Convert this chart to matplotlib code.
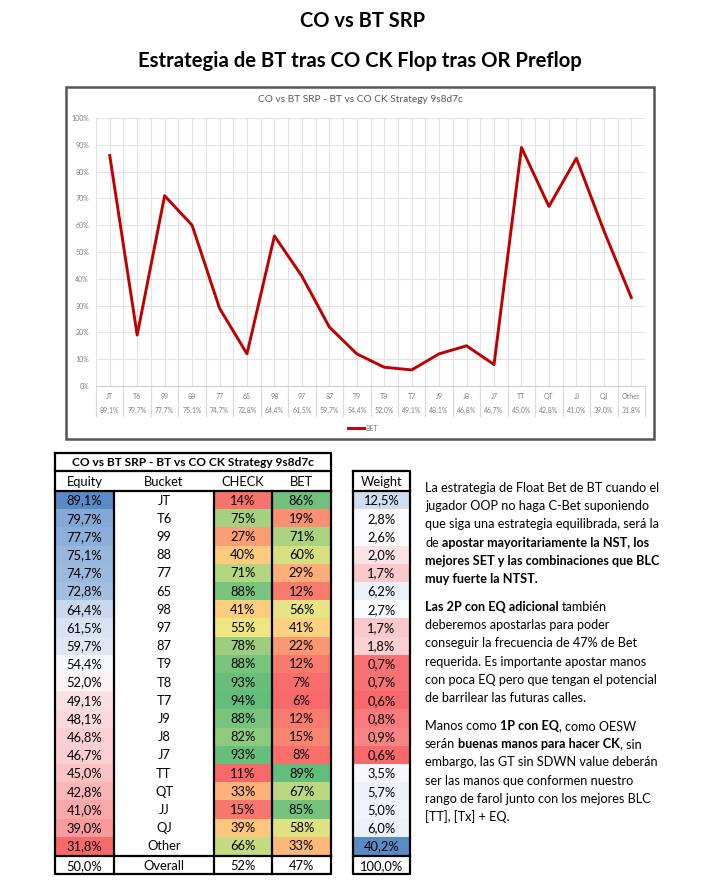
import matplotlib
matplotlib.use('Agg')
import matplotlib.pyplot as plt
import numpy as np
from matplotlib.patches import Rectangle
from matplotlib.colors import to_rgb

plt.rcParams['font.family'] = ['Lato', 'DejaVu Sans']

# data
buckets = ['JT', 'T6', '99', '88', '77', '65', '98', '97', '87', 'T9',
           'T8', 'T7', 'J9', 'J8', 'J7', 'TT', 'QT', 'JJ', 'QJ', 'Other']
equity = [89.1, 79.7, 77.7, 75.1, 74.7, 72.8, 64.4, 61.5, 59.7, 54.4,
          52.0, 49.1, 48.1, 46.8, 46.7, 45.0, 42.8, 41.0, 39.0, 31.8]
check = [14, 75, 27, 40, 71, 88, 41, 55, 78, 88, 93, 94, 88, 82, 93, 11, 33, 15, 39, 66]
bet = [86, 19, 71, 60, 29, 12, 56, 41, 22, 12, 7, 6, 12, 15, 8, 89, 67, 85, 58, 33]
weight = [12.5, 2.8, 2.6, 2.0, 1.7, 6.2, 2.7, 1.7, 1.8, 0.7,
          0.7, 0.6, 0.8, 0.9, 0.6, 3.5, 5.7, 5.0, 6.0, 40.2]
overall = ['50,0%', 'Overall', '52%', '47%']
overall_weight = '100,0%'

title1 = 'CO vs BT SRP'
title2 = 'Estrategia de BT tras CO CK Flop tras OR Preflop'
chart_title = 'CO vs BT SRP - BT vs CO CK Strategy 9s8d7c'
table_title = 'CO vs BT SRP - BT vs CO CK Strategy 9s8d7c'
headers = ['Equity', 'Bucket', 'CHECK', 'BET']

para_lines = [
    [("La estrategia de Float Bet de BT cuando el", False)],
    [("jugador OOP no haga C-Bet suponiendo", False)],
    [("que siga una estrategia equilibrada, será la", False)],
    [("de ", False), ("apostar mayoritariamente la NST, los", True)],
    [("mejores SET y las combinaciones que BLC", True)],
    [("muy fuerte la NTST.", True)],
    None,
    [("Las 2P con EQ adicional", True), (" también", False)],
    [("deberemos apostarlas para poder", False)],
    [("conseguir la frecuencia de 47% de Bet", False)],
    [("requerida. Es importante apostar manos", False)],
    [("con poca EQ pero que tengan el potencial", False)],
    [("de barrilear las futuras calles.", False)],
    None,
    [("Manos como ", False), ("1P con EQ", True), (", como OESW", False)],
    [("serán ", False), ("buenas manos para hacer CK", True), (", sin", False)],
    [("embargo, las GT sin SDWN value deberán", False)],
    [("ser las manos que conformen nuestro", False)],
    [("rango de farol junto con los mejores BLC", False)],
    [("[TT], [Tx] + EQ.", False)],
]


def fmt_pct1(v):
    return ('%.1f%%' % v).replace('.', ',')


def scale3(v, lo, mid, hi, c_lo, c_mid, c_hi):
    c_lo, c_mid, c_hi = np.array(to_rgb(c_lo)), np.array(to_rgb(c_mid)), np.array(to_rgb(c_hi))
    if v <= mid:
        t = (v - lo) / (mid - lo)
        return tuple(c_lo + (c_mid - c_lo) * t)
    t = (v - mid) / (hi - mid)
    return tuple(c_mid + (c_hi - c_mid) * t)


RED, YEL, GRN = '#F8696B', '#FFEB84', '#63BE7B'
BLUE, WHITE = '#5A8AC6', '#FCFCFF'

W, H = 726, 883
fig = plt.figure(figsize=(W / 100, H / 100), dpi=100)
bg = fig.add_axes([0, 0, 1, 1])
bg.set_xlim(0, W)
bg.set_ylim(H, 0)
bg.axis('off')

# titles
bg.text(363, 21, title1, ha='center', va='center', fontsize=14.5, fontweight='bold')
bg.text(360, 61, title2, ha='center', va='center', fontsize=14.6, fontweight='bold')

# chart frame
bg.add_patch(Rectangle((66, 87), 588, 352, fill=False, edgecolor='#555555', lw=1.8))
bg.text(360, 100, chart_title, ha='center', va='center', fontsize=7.3, color='#595959')

# ---- line chart
pl, pr, pt, pb = 96, 645, 118, 386
ax = fig.add_axes([pl / W, 1 - pb / H, (pr - pl) / W, (pb - pt) / H])
x = np.arange(len(buckets))
ax.plot(x, np.array(bet) / 100, color='#C00000', lw=2.1, label='BET', zorder=3)
ax.set_xlim(-0.5, len(buckets) - 0.5)
ax.set_ylim(0, 1)
ax.set_yticks(np.arange(0, 1.01, 0.1))
ax.set_yticklabels(['%d%%' % round(v * 100) for v in np.arange(0, 1.01, 0.1)],
                   fontsize=5, color='#808080')
ax.set_xticks(np.arange(-0.5, len(buckets), 0.5))
ax.set_xticklabels([])
ax.tick_params(length=0, pad=5)
ax.grid(True, color='#e3e3e3', lw=0.8)
for s in ['top', 'right', 'left']:
    ax.spines[s].set_visible(False)
ax.spines['bottom'].set_color('#d0d0d0')
trans = ax.get_xaxis_transform()
for i, b in enumerate(buckets):
    ax.text(i, -0.041, b, transform=trans, ha='center', va='center', fontsize=5, color='#808080')
    ax.text(i, -0.093, fmt_pct1(equity[i]), transform=trans, ha='center', va='center',
            fontsize=5, color='#808080')
for i in range(len(buckets) + 1):
    ax.plot([i - 0.5, i - 0.5], [0, -0.112], transform=trans, color='#d9d9d9', lw=0.8, clip_on=False)
ax.legend(loc='center', bbox_to_anchor=(0.486, -0.157), frameon=False, fontsize=5,
          handlelength=2.4, labelcolor='#808080', borderpad=0, handletextpad=0.1)

# ---- table
cols = [55, 114, 214, 272, 331]
wcols = [353, 410]
y_title, y_head, y_data = 453, 471, 491
rh = 18.2
n = len(buckets)
y_end = y_data + n * rh
y_ov = y_end + 2
y_ov_end = y_ov + 16.5
fs = 9.3

eq_mid = np.median(equity)
w_mid = np.median(weight)
for i in range(n):
    y0 = y_data + i * rh
    cells = [
        (scale3(equity[i], min(equity), eq_mid, max(equity), RED, WHITE, BLUE), fmt_pct1(equity[i])),
        ('white', buckets[i]),
        (scale3(check[i], min(check), 50, max(check), RED, YEL, GRN), '%d%%' % check[i]),
        (scale3(bet[i], min(bet), 50, max(bet), RED, YEL, GRN), '%d%%' % bet[i]),
    ]
    for j, (c, t) in enumerate(cells):
        bg.add_patch(Rectangle((cols[j], y0), cols[j + 1] - cols[j], rh, facecolor=c, edgecolor='none'))
        bg.text((cols[j] + cols[j + 1]) / 2, y0 + rh / 2 + 0.5, t, ha='center', va='center', fontsize=fs)
    c = scale3(weight[i], min(weight), w_mid, max(weight), RED, WHITE, BLUE)
    bg.add_patch(Rectangle((wcols[0], y0), wcols[1] - wcols[0], rh, facecolor=c, edgecolor='none'))
    bg.text(sum(wcols) / 2, y0 + rh / 2 + 0.5, fmt_pct1(weight[i]), ha='center', va='center', fontsize=fs)

bg.text((cols[0] + cols[-1]) / 2, (y_title + y_head) / 2 + 0.5, table_title, ha='center', va='center',
        fontsize=8.6, fontweight='bold')
for j, h in enumerate(headers):
    bg.text((cols[j] + cols[j + 1]) / 2, (y_head + y_data) / 2 + 0.5, h, ha='center', va='center', fontsize=fs)
bg.text(sum(wcols) / 2, (y_head + y_data) / 2 + 0.5, 'Weight', ha='center', va='center', fontsize=fs)
for j, t in enumerate(overall):
    bg.text((cols[j] + cols[j + 1]) / 2, (y_ov + y_ov_end) / 2 + 0.5, t, ha='center', va='center', fontsize=fs)
bg.text(sum(wcols) / 2, (y_ov + y_ov_end) / 2 + 0.5, overall_weight, ha='center', va='center', fontsize=fs)

lk = dict(color='black', lw=1.6, solid_capstyle='projecting')
bg.plot([cols[0], cols[-1], cols[-1], cols[0], cols[0]], [y_title, y_title, y_ov_end, y_ov_end, y_title], **lk)
for yy in [y_head, y_data, y_end + 1]:
    bg.plot([cols[0], cols[-1]], [yy, yy], **lk)
for xx in cols[1:-1]:
    bg.plot([xx, xx], [y_data, y_ov_end], **lk)
bg.plot([wcols[0], wcols[1], wcols[1], wcols[0], wcols[0]], [y_head, y_head, y_ov_end, y_ov_end, y_head], **lk)
for yy in [y_data, y_end + 1]:
    bg.plot(wcols, [yy, yy], **lk)

# ---- rich text paragraphs
fig.canvas.draw()
renderer = fig.canvas.get_renderer()
pfs = 9.1


def text_w(s, bold):
    t = bg.text(0, 0, s, fontsize=pfs, fontweight='bold' if bold else 'normal')
    w = t.get_window_extent(renderer).width
    t.remove()
    return w


sp = {b: text_w('a a', b) - text_w('aa', b) for b in (False, True)}
y = 488
for line in para_lines:
    if line is None:
        y += 28 - 18.2
        continue
    xx = 425
    for s, b in line:
        if s.startswith(' '):
            xx += sp[b]
        st = s.strip()
        t = bg.text(xx, y, st, fontsize=pfs, fontweight='bold' if b else 'normal', ha='left', va='center')
        xx += t.get_window_extent(renderer).width
        if s.endswith(' '):
            xx += sp[b]
    y += 18.2

fig.savefig('out.png', dpi=100)
